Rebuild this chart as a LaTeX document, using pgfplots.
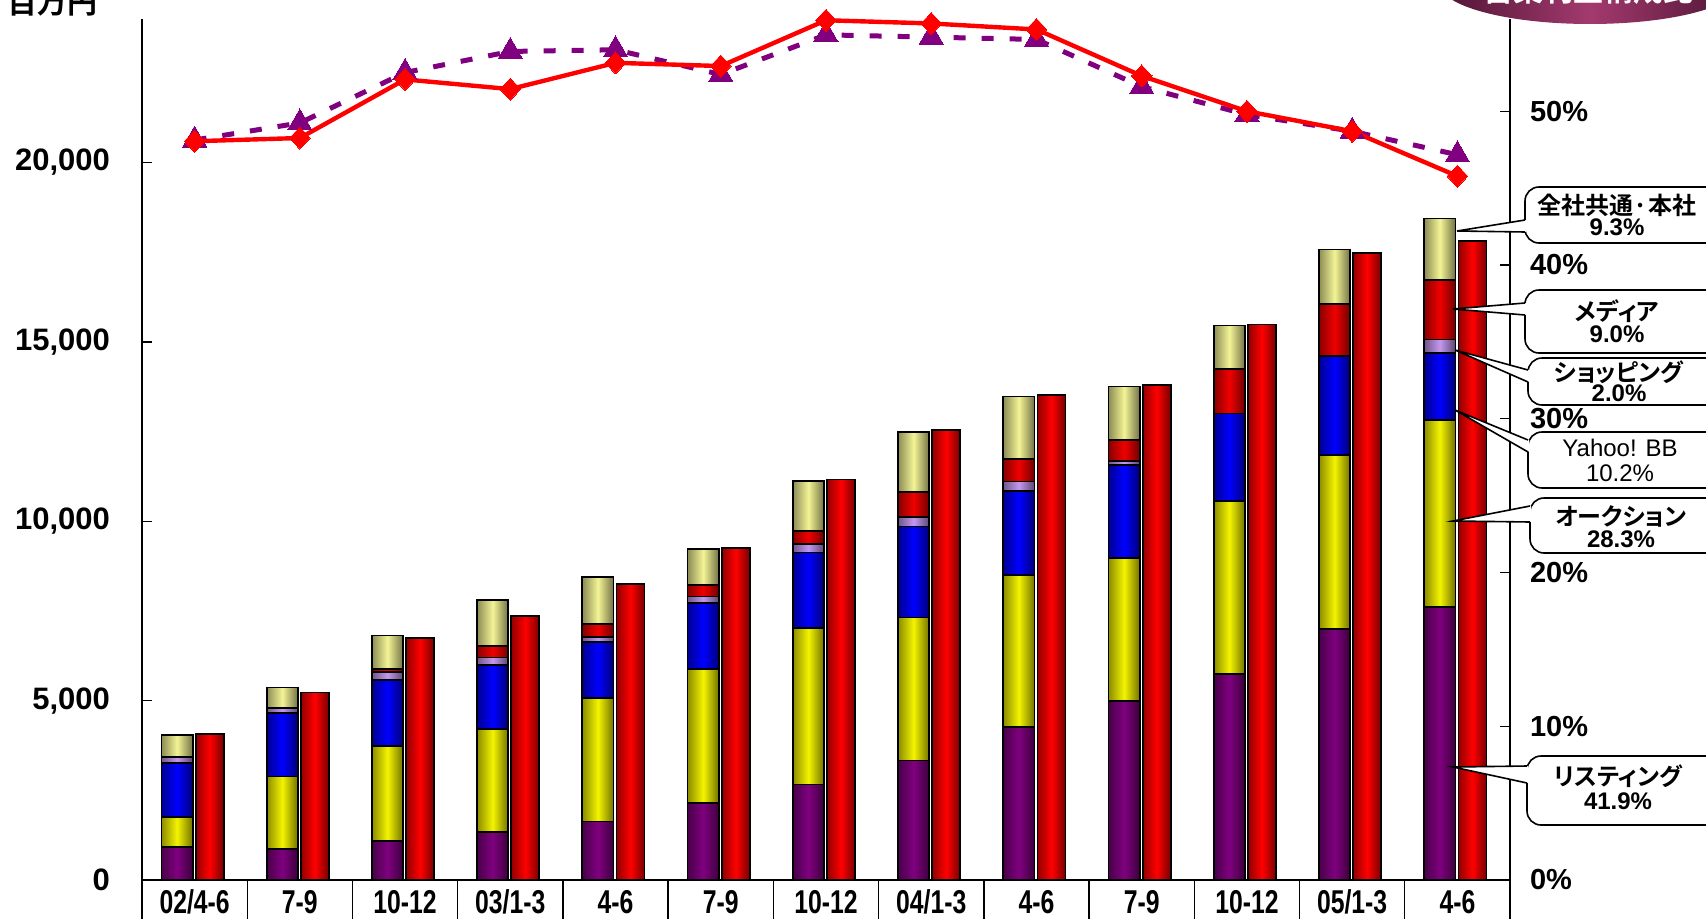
\documentclass[border=0pt]{standalone}
\usepackage{fontspec}
\usepackage{pgfplots}
\usepackage{pgfplotstable}
\pgfplotsset{compat=1.18}
\setmainfont{Liberation Sans}
\newfontfamily\jp{Noto Sans CJK JP}[BoldFont={Noto Sans CJK JP Bold}]
\newfontfamily\jpp{Noto Sans CJK JP}[BoldFont={Noto Sans CJK JP Bold}, RawFeature={+palt}]
\newfontfamily\narrow{Liberation Sans}[FakeStretch=0.75]

\definecolor{lstC}{HTML}{800080}
\definecolor{aucC}{HTML}{F4F400}
\definecolor{bbC}{HTML}{0000FF}
\definecolor{shpC}{HTML}{C498F0}
\definecolor{medC}{HTML}{F00000}
\definecolor{comC}{HTML}{F4F496}
\definecolor{barC}{HTML}{FF0000}
\definecolor{triC}{HTML}{800080}
\definecolor{bnC}{HTML}{A33A6E}  \definecolor{bnD}{HTML}{4E1434}
\definecolor{edgeL}{gray}{0.6}
\definecolor{edgeR}{gray}{0.5}

% segment values (million yen), quarterly
\pgfplotstableread{
x  lst  auc  bb   shop med  com  tot
0  910  855  1505 150  0    625  4060
1  865  2018 1766 140  0    576  5226
2  1097 2641 1841 214  84   938  6741
3  1330 2873 1794 204  326  1283 7370
4  1630 3437 1567 134  370  1301 8254
5  2145 3735 1835 187  329  1002 9244
6  2660 4355 2115 237  362  1392 11163
7  3330 3990 2533 276  695  1665 12547
8  4275 4234 2335 265  624  1745 13517
9  4980 3990 2590 117  577  1505 13805
10 5745 4815 2443 0    1247 1208 15484
11 6990 4862 2759 0    1450 1512 17480
12 7600 5215 1880 370  1660 1715 17805
}\segdata

% margin ratios (%)
\pgfplotstableread{
x  red   pur
0  48.05 48.13
1  48.26 49.24
2  52.07 52.52
3  51.44 53.89
4  53.15 54.00
5  52.94 52.39
6  55.92 54.97
7  55.71 54.82
8  55.32 54.67
9  52.30 51.60
10 50.00 49.78
11 48.70 48.70
12 45.78 47.17
}\ratiodata

\pgfplotsset{
  seg/.style={draw=black, line width=0.9pt, fill=#1},
  % cylinder-like light falloff across one bar, multiplied onto its flat colours
  glow/.style={draw=none, left color=edgeL, right color=edgeR, middle color=white, blend mode=multiply},
  frame/.style={at={(71pt,19pt)}, anchor=south west, scale only axis,
    width=684pt, height=430.5pt, xmin=-0.5, xmax=12.5, enlargelimits=false},
  /pgf/number format/assume math mode=true,
}

\newcommand\callout[7]{%
  \draw[line width=0.8pt, fill=white, rounded corners=7pt] (#1pt,#2pt) rectangle (862pt,#3pt);
  \fill[white] (#4pt,#5pt) -- (#1pt+0.6pt,#6pt) -- (#1pt+0.6pt,#7pt) -- cycle;
  \draw[line width=0.8pt] (#1pt,#6pt) -- (#4pt,#5pt) -- (#1pt,#7pt);
}

\begin{document}
\begin{tikzpicture}
\useasboundingbox (0,0) rectangle (853pt,459pt);
\clip (0,0) rectangle (853pt,459pt);

% total bars, with a per-bar shading pass on top
\begin{axis}[frame, ymin=0, ymax=24000, hide axis]
\addplot[ybar, bar width=14pt, bar shift=7.5pt, seg=barC] table[x=x,y=tot]{\segdata};
\pgfplotsinvokeforeach{0,...,12}{
  \addplot[ybar, bar width=13.1pt, bar shift=7.5pt, glow, restrict x to domain=#1:#1]
    table[x=x,y=tot]{\segdata};
}
\end{axis}

% stacked segment bars
\begin{axis}[frame, ymin=0, ymax=24000, clip=false,
  ybar stacked,
  every axis plot/.append style={bar width=15.6pt, bar shift=-8.8pt},
  axis x line*=bottom, axis y line*=left,
  axis line style={line width=0.7pt},
  tick align=inside, major tick length=5pt,
  every tick/.style={black, line width=0.7pt},
  xtick={0,...,12},
  xticklabels={02/4-6,7-9,10-12,03/1-3,4-6,7-9,10-12,04/1-3,4-6,7-9,10-12,05/1-3,4-6},
  xtick style={draw=none},
  xticklabel style={font=\narrow\bfseries\fontsize{16.5}{17}\selectfont, anchor=base, yshift=-16.5pt},
  ytick={0,5000,10000,15000,20000},
  scaled y ticks=false,
  /pgf/number format/1000 sep={,},
  yticklabel style={font=\bfseries\fontsize{15.5}{16}\selectfont, anchor=east, xshift=-12.5pt},
]
\addplot[seg=lstC] table[x=x,y=lst]{\segdata};
\addplot[seg=aucC] table[x=x,y=auc]{\segdata};
\addplot[seg=bbC] table[x=x,y=bb]{\segdata};
\addplot[seg=shpC] table[x=x,y=shop]{\segdata};
\addplot[seg=medC] table[x=x,y=med]{\segdata};
\addplot[seg=comC] table[x=x,y=com]{\segdata};
\pgfplotsinvokeforeach{-0.5,0.5,1.5,2.5,3.5,4.5,5.5,6.5,7.5,8.5,9.5,10.5,11.5,12.5}{
  \draw[line width=0.7pt] (axis cs:#1,0) -- ++(0pt,-30pt);
}
\end{axis}

% shading pass over each stacked bar
\begin{axis}[frame, ymin=0, ymax=24000, hide axis]
\pgfplotsinvokeforeach{0,...,12}{
  \addplot[ybar, bar width=14.7pt, bar shift=-8.8pt, glow, restrict x to domain=#1:#1]
    table[x=x,y expr=\thisrow{lst}+\thisrow{auc}+\thisrow{bb}+\thisrow{shop}+\thisrow{med}+\thisrow{com}]{\segdata};
}
\end{axis}

% ratio lines on the right scale
\begin{axis}[frame, ymin=0, ymax=56, clip=false,
  axis x line=none, axis y line*=right,
  axis line style={line width=0.7pt},
  tick align=inside, major tick length=5pt,
  every tick/.style={black, line width=0.7pt},
  ytick={0,10,20,30,40,50},
  yticklabel={\pgfmathprintnumber{\tick}\%},
  yticklabel style={font=\bfseries\fontsize{14.5}{15}\selectfont, anchor=west, xshift=6.5pt},
]
\addplot[triC, line width=2.5pt, dash pattern=on 6pt off 8pt,
  mark=triangle*, mark size=7pt, mark options={solid, fill=triC, draw=triC, line width=0pt}]
  table[x=x,y=pur]{\ratiodata};
\addplot[red, line width=2.2pt,
  mark=diamond*, mark size=5.5pt, mark options={solid, fill=red, draw=red, line width=0pt, xscale=1.25}]
  table[x=x,y=red]{\ratiodata};
\end{axis}

% unit label
\node[font=\jp\bfseries\fontsize{15}{15}\selectfont, anchor=base, inner sep=0pt] at (26pt,452pt) {百万円};

% title banner
\shade[left color=bnD, right color=bnD, middle color=bnC] (795pt,467pt) ellipse [x radius=75pt, y radius=20pt];
\node[text=white, font=\jp\bfseries\fontsize{15}{15}\selectfont, anchor=base, inner sep=0pt] at (794pt,458pt) {営業利益構成比};

% segment callouts
\callout{762.5}{337.5}{365.5}{728.5}{343.5}{349}{343}
\callout{762.5}{282.5}{314}{726.5}{304.5}{307.5}{301.5}
\callout{764}{256.5}{280}{727.5}{284}{274}{268}
\callout{764}{215}{243}{727.5}{254}{239}{233}
\callout{765}{182.5}{210}{726.5}{198.5}{206}{198}
\callout{763.5}{46.5}{81}{726.5}{75.5}{76}{67.5}

\begin{scope}[every node/.style={inner sep=0pt}]
\node[font=\jpp\bfseries\fontsize{12}{12}\selectfont] at (808.5pt,356.5pt) {全社共通·本社};
\node[font=\bfseries\fontsize{12}{12}\selectfont] at (808.5pt,345.2pt) {9.3\%};
\node[font=\jpp\bfseries\fontsize{12}{12}\selectfont] at (808.5pt,303.6pt) {メディア};
\node[font=\bfseries\fontsize{12}{12}\selectfont] at (808.5pt,291.7pt) {9.0\%};
\node[font=\jpp\bfseries\fontsize{12}{12}\selectfont] at (809.5pt,272.9pt) {ショッピング};
\node[font=\bfseries\fontsize{12}{12}\selectfont] at (809.5pt,262.3pt) {2.0\%};
\node[font=\fontsize{12}{12}\selectfont] at (810pt,234.8pt) {Yahoo! BB};
\node[font=\fontsize{12}{12}\selectfont] at (810pt,222.3pt) {10.2\%};
\node[font=\jpp\bfseries\fontsize{12}{12}\selectfont] at (810.5pt,200.7pt) {オークション};
\node[font=\bfseries\fontsize{12}{12}\selectfont] at (810.5pt,189.4pt) {28.3\%};
\node[font=\jpp\bfseries\fontsize{12}{12}\selectfont] at (809pt,71.1pt) {リスティング};
\node[font=\bfseries\fontsize{12}{12}\selectfont] at (809pt,58.6pt) {41.9\%};
\end{scope}
\end{tikzpicture}
\end{document}
